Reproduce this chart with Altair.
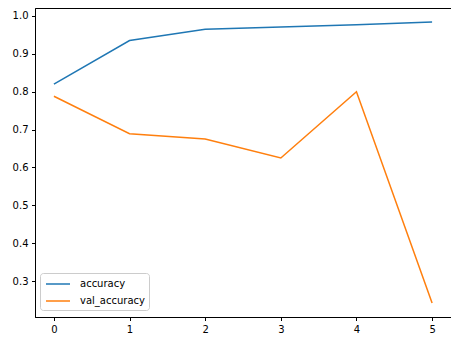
import altair as alt
import pandas as pd

epochs = [0, 1, 2, 3, 4, 5]
accuracy = [0.820, 0.935, 0.965, 0.971, 0.977, 0.984]
val_accuracy = [0.788, 0.689, 0.675, 0.625, 0.800, 0.242]
series_names = ["accuracy", "val_accuracy"]
colors = ["#1f77b4", "#ff7f0e"]
x_ticks = [0, 1, 2, 3, 4, 5]
y_ticks = [0.3, 0.4, 0.5, 0.6, 0.7, 0.8, 0.9, 1.0]

rows = []
for e, a in zip(epochs, accuracy):
    rows.append({"epoch": e, "value": a, "series": "accuracy"})
for e, v in zip(epochs, val_accuracy):
    rows.append({"epoch": e, "value": v, "series": "val_accuracy"})
df = pd.DataFrame(rows)

chart = alt.Chart(df).mark_line(strokeWidth=1.5).encode(
    x=alt.X("epoch:Q",
            scale=alt.Scale(domain=[-0.25, 5.25], nice=False, zero=False),
            axis=alt.Axis(values=x_ticks, format="d", title=None)),
    y=alt.Y("value:Q",
            scale=alt.Scale(domain=[0.205, 1.021], nice=False, zero=False),
            axis=alt.Axis(values=y_ticks, format=".1f", title=None)),
    color=alt.Color("series:N",
                    scale=alt.Scale(domain=series_names, range=colors),
                    legend=alt.Legend(title=None, orient="none",
                                      legendX=5, legendY=265,
                                      symbolType="M-2,0L2,0", symbolSize=144,
                                      symbolStrokeWidth=1.5, symbolOffset=7,
                                      labelOffset=15, labelFontSize=10,
                                      labelFont="DejaVu Sans", labelColor="#000000",
                                      padding=4, rowPadding=5,
                                      strokeColor="#cccccc", fillColor="#ffffff",
                                      cornerRadius=3)),
).properties(
    width=416, height=309,
    autosize=alt.AutoSizeParams(type="none"),
    padding={"left": 27, "top": 0, "right": 0, "bottom": 25},
).configure_view(
    stroke="#000000", strokeWidth=1
).configure_axis(
    grid=False, domainColor="#000000", domainWidth=1,
    tickColor="#000000", tickSize=3.5, tickWidth=1,
    labelFont="DejaVu Sans", labelFontSize=10, labelColor="#000000",
    labelPadding=3.5
)

chart.save("out.html", embed_options={"renderer": "svg", "actions": False})
